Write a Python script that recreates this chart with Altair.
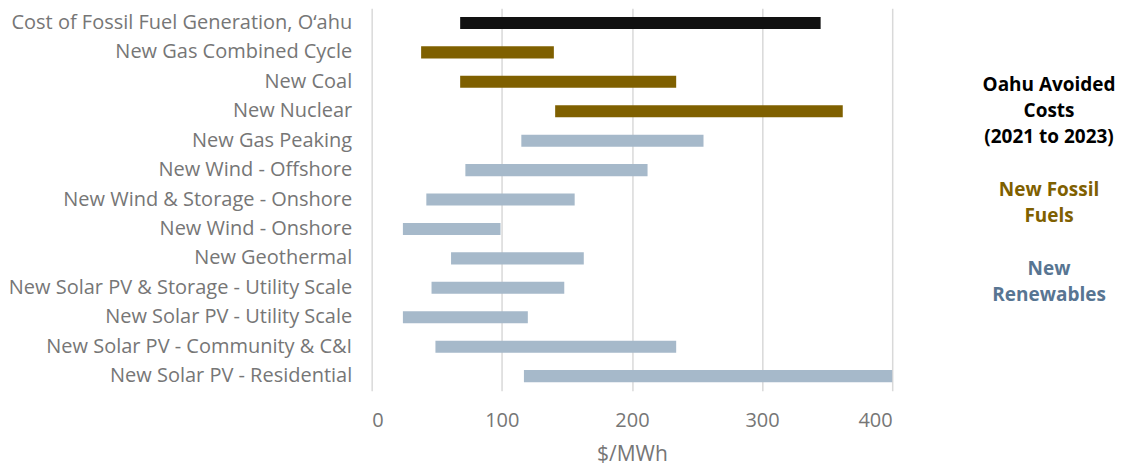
import altair as alt
import pandas as pd

categories = [
    "Cost of Fossil Fuel Generation, O\u2018ahu",
    "New Gas Combined Cycle",
    "New Coal",
    "New Nuclear",
    "New Gas Peaking",
    "New Wind - Offshore",
    "New Wind & Storage - Onshore",
    "New Wind - Onshore",
    "New Geothermal",
    "New Solar PV & Storage - Utility Scale",
    "New Solar PV - Utility Scale",
    "New Solar PV - Community & C&I",
    "New Solar PV - Residential",
]
low = [68, 38, 68, 141, 115, 72, 42, 24, 61, 46, 24, 49, 117]
high = [345, 140, 234, 362, 255, 212, 156, 99, 163, 148, 120, 234, 400]
groups = ["Avoided"] + ["Fossil"] * 3 + ["Renewable"] * 9

legend_lines = ["Oahu Avoided", "Costs", "(2021 to 2023)", "New Fossil", "Fuels", "New", "Renewables"]
legend_rows = [0, 1, 2, 4, 5, 7, 8]
legend_groups = ["Avoided", "Avoided", "Avoided", "Fossil", "Fossil", "Renewable", "Renewable"]

ticks = [0, 100, 200, 300, 400]

FONT = "Open Sans"
GRAY = "#767676"

df = pd.DataFrame({"category": categories, "low": low, "high": high, "group": groups})
leg = pd.DataFrame({"line": legend_lines, "row": legend_rows, "tgroup": legend_groups})

bars = alt.Chart(df).mark_bar().encode(
    y=alt.Y(
        "category:N",
        sort=categories,
        scale=alt.Scale(paddingInner=0.59, paddingOuter=0.295),
        axis=alt.Axis(
            title=None, labelFontSize=20, labelColor=GRAY, labelPadding=20,
            ticks=False, domain=False, labelLimit=500, labelFont=FONT, grid=False,
        ),
    ),
    x=alt.X(
        "low:Q",
        scale=alt.Scale(domain=[0, 400], nice=False),
        axis=alt.Axis(
            values=ticks, title="$/MWh", labelFontSize=20, labelColor=GRAY, labelFont=FONT,
            labelPadding=20, ticks=False, domain=False, grid=True, gridColor="#d9d9d9",
            gridWidth=1.5, titleFontSize=21, titleColor=GRAY, titleFont=FONT,
            titleFontWeight="normal", titlePadding=13,
        ),
    ),
    x2="high:Q",
    color=alt.Color(
        "group:N",
        scale=alt.Scale(domain=["Avoided", "Fossil", "Renewable"],
                        range=["#111111", "#7f6000", "#a6b9ca"]),
        legend=None,
    ),
).properties(width=521, height=383)

legend = alt.Chart(leg).mark_text(
    fontWeight="bold", fontSize=19, font=FONT, align="center", baseline="middle"
).encode(
    y=alt.Y("row:Q", scale=alt.Scale(domain=[-2.91, 11.65], nice=False, zero=False, reverse=True), axis=None),
    x=alt.value(65),
    text="line:N",
    color=alt.Color(
        "tgroup:N",
        scale=alt.Scale(domain=["Avoided", "Fossil", "Renewable"],
                        range=["#000000", "#7f6000", "#587592"]),
        legend=None,
    ),
).properties(width=130, height=383)

chart = alt.hconcat(bars, legend, spacing=90).properties(
    padding={"left": 0, "top": 0, "right": 0, "bottom": 2}
).resolve_scale(color="independent").configure_view(stroke=None)

chart.save("out.html", embed_options={"renderer": "svg", "actions": False})
